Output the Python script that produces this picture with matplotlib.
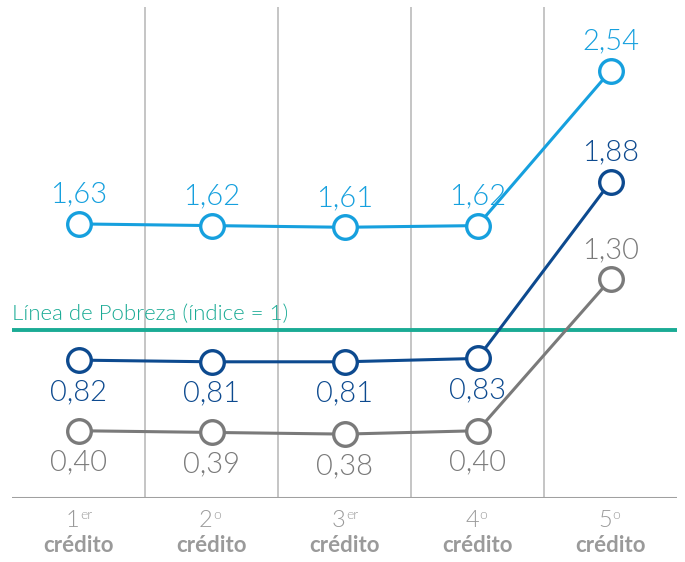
import matplotlib.pyplot as plt

# categories (ordinal + superscript suffix)
ordinals = ["1", "2", "3", "4", "5"]
suffixes = ["er", "o", "er", "o", "o"]
x = [0, 1, 2, 3, 4]

# series values
serie_alta = [1.63, 1.62, 1.61, 1.62, 2.54]
serie_media = [0.82, 0.81, 0.81, 0.83, 1.88]
serie_baja = [0.40, 0.39, 0.38, 0.40, 1.30]
pobreza = 1.0

c_alta = "#16a0de"
c_media = "#0d4a8f"
c_baja = "#7a7a7a"
c_linea = "#1aab95"
c_cat = "#9a9a9a"

plt.rcParams['font.family'] = ['Lato', 'DejaVu Sans']

fig = plt.figure(figsize=(6.85, 5.62), dpi=100)
ax = fig.add_axes([12/685, 64/562, 665/685, 491/562])
ax.set_xlim(-0.5, 4.5)
ax.set_ylim(0, 2.92)
ax.axis('off')

# separators between columns
for b in [0.5, 1.5, 2.5, 3.5]:
    ax.axvline(b, color="#c0c0c0", lw=1.3, zorder=1)
ax.axhline(0, color="#a0a0a0", lw=2.2, zorder=2)

# poverty line
ax.axhline(pobreza, color=c_linea, lw=2.8, zorder=2)
ax.text(-0.5, pobreza + 0.035, "Línea de Pobreza (índice = 1)", color=c_linea,
        fontsize=16, fontweight=300, ha='left', va='bottom')

def fmt(v):
    return f"{v:.2f}".replace(".", ",")

series = [(serie_alta, c_alta, ["up"] * 5),
          (serie_media, c_media, ["down"] * 4 + ["up"]),
          (serie_baja, c_baja, ["down"] * 4 + ["up"])]

for vals, col, pos in series:
    ax.plot(x, vals, color=col, lw=2.2, marker='o', ms=17, mfc='white',
            mec=col, mew=2.4, zorder=4)
    for xi, v, p in zip(x, vals, pos):
        off = 0.175 if p == "up" else -0.19
        ax.text(xi, v + off, fmt(v), color=col, fontsize=21, fontweight=300,
                ha='center', va='center', zorder=5)

# category labels below the axis
for xi, o, s in zip(x, ordinals, suffixes):
    ax.annotate(o, xy=(xi, 0), xytext=(-4, -16), textcoords='offset points',
                ha='center', va='center', fontsize=17, fontweight=300,
                color=c_cat)
    ax.annotate(s, xy=(xi, 0), xytext=(1.5, -12.5), textcoords='offset points',
                ha='left', va='center', fontsize=10, fontweight=300,
                color=c_cat)
    ax.annotate("crédito", xy=(xi, 0), xytext=(0, -34), textcoords='offset points',
                ha='center', va='center', fontsize=16, color=c_cat,
                fontweight='bold')

fig.savefig("out.png", dpi=100)
